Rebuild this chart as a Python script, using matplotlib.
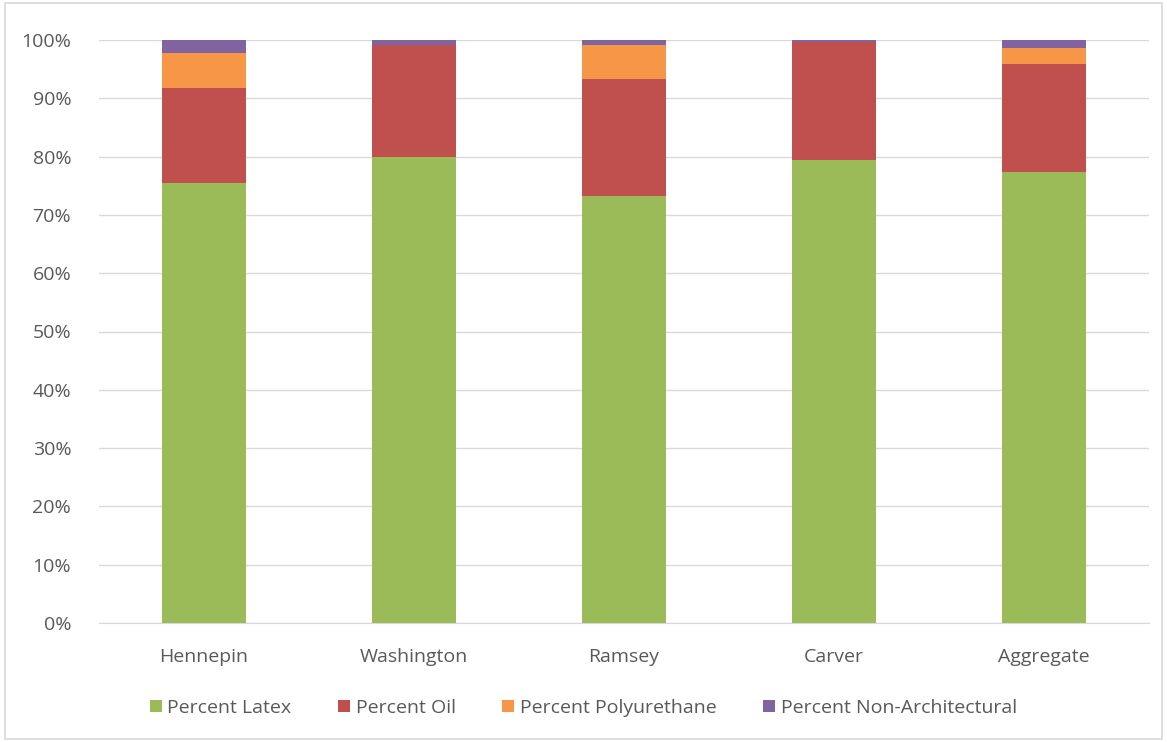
import matplotlib.pyplot as plt
import numpy as np
from matplotlib.ticker import PercentFormatter
from matplotlib.patches import Rectangle

# 各县油漆类型占比（%）
counties = ['Hennepin', 'Washington', 'Ramsey', 'Carver', 'Aggregate']
latex = [75.5, 80.0, 73.2, 79.5, 77.3]
oil = [16.3, 19.1, 20.1, 20.2, 18.6]
polyurethane = [6.0, 0.0, 5.9, 0.0, 2.8]
non_arch = [2.2, 0.9, 0.8, 0.3, 1.3]

series = [
    ('Percent Latex', latex, '#9BBB59'),
    ('Percent Oil', oil, '#C0504D'),
    ('Percent Polyurethane', polyurethane, '#F79646'),
    ('Percent Non-Architectural', non_arch, '#8064A2'),
]

plt.rcParams['font.family'] = ['Open Sans', 'DejaVu Sans']

fig = plt.figure(figsize=(11.67, 7.42), dpi=100)
ax = fig.add_axes([99 / 1167, 1 - 623 / 742, 1050 / 1167, 583 / 742])

x = np.arange(len(counties))
bottom = np.zeros(len(counties))
for name, vals, color in series:
    ax.bar(x, vals, bottom=bottom, width=0.4, color=color, label=name, zorder=3)
    bottom += np.array(vals)

ax.set_xlim(-0.5, len(counties) - 0.5)
ax.set_ylim(0, 100)
ax.set_yticks(np.arange(0, 101, 10))
ax.yaxis.set_major_formatter(PercentFormatter(decimals=0))
ax.set_xticks(x)
ax.set_xticklabels(counties)

ax.grid(True, axis='y', color='#D9D9D9', linewidth=1, zorder=0)
for s in ['top', 'right', 'left']:
    ax.spines[s].set_visible(False)
ax.spines['bottom'].set_color('#D9D9D9')
ax.tick_params(axis='both', length=0, labelsize=14, colors='#595959')
ax.tick_params(axis='y', pad=20)
ax.tick_params(axis='x', pad=18)

ax.legend(loc='center', bbox_to_anchor=(0.5, 1 - 708 / 742), bbox_transform=fig.transFigure,
          ncol=4, frameon=False, fontsize=14, labelcolor='#595959',
          handlelength=0.6, handleheight=0.6, handletextpad=0.3, columnspacing=2.4)

# 外框
fig.patches.append(Rectangle((5 / 1167, 3 / 742), 1157 / 1167, 736 / 742,
                             transform=fig.transFigure, fill=False,
                             edgecolor='#D9D9D9', linewidth=1.2))

plt.savefig('out.png', dpi=100, facecolor='white')
